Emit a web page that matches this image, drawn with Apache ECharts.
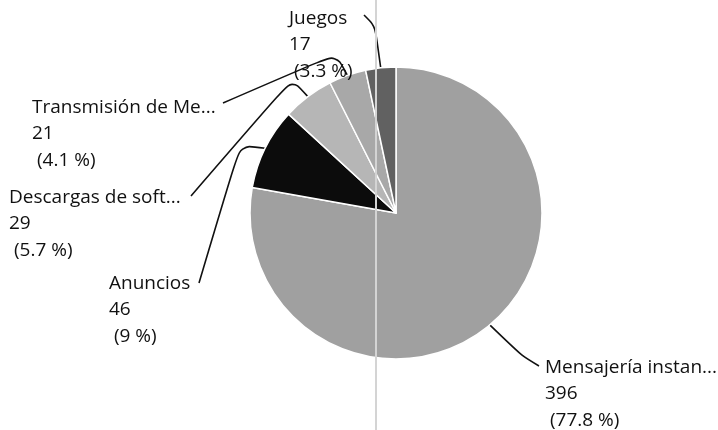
<!DOCTYPE html>
<html>
<head>
<meta charset="utf-8">
<script src="https://cdn.jsdelivr.net/npm/echarts@6/dist/echarts.min.js"></script>
<style>
html,body{margin:0;padding:0;background:#fff;}
#chart{width:718px;height:430px;}
</style>
</head>
<body>
<div id="chart"></div>
<script>
// ---- data ----
var categories = ["Mensajería instantánea", "Anuncios", "Descargas de software", "Transmisión de Medios", "Juegos"];
var values = [396, 46, 29, 21, 17];
var sliceColors = ["#a0a0a0", "#0c0c0c", "#b6b6b6", "#a8a8a8", "#616161"];

// ---- label layout (top-left of label block, bend point, attach point) ----
var labelPos = [
  { x: 545, y: 354, bend: [522, 356], attach: [539, 366] },
  { x: 109, y: 270, bend: [240, 145], attach: [199, 283] },
  { x: 9,   y: 184, bend: [292, 79],  attach: [191, 196] },
  { x: 32,  y: 94,  bend: [336, 54],  attach: [223, 103] },
  { x: 289, y: 5,   bend: [375, 26],  attach: [364, 15] }
];

var total = values.reduce(function (a, b) { return a + b; }, 0);
function shortName(n) { return n.length > 17 ? n.slice(0, 17) + '...' : n; }
function pct(v) { return Number((v / total * 100).toFixed(1)); }

var chart = echarts.init(document.getElementById('chart'));
chart.setOption({
  backgroundColor: '#ffffff',
  animation: false,
  graphic: [{
    type: 'line',
    z: 100,
    shape: { x1: 376, y1: 0, x2: 376, y2: 430 },
    style: { stroke: '#d4d4d4', lineWidth: 2 }
  }],
  series: [{
    type: 'pie',
    center: [396, 213],
    radius: 146,
    startAngle: 90,
    clockwise: true,
    avoidLabelOverlap: false,
    itemStyle: { borderColor: '#ffffff', borderWidth: 1.5 },
    data: categories.map(function (c, i) {
      return { name: c, value: values[i], itemStyle: { color: sliceColors[i] } };
    }),
    label: {
      show: true,
      position: 'outside',
      overflow: 'none',
      color: '#111111',
      fontFamily: 'Open Sans',
      fontSize: 19,
      lineHeight: 26.5,
      formatter: function (p) {
        return shortName(p.name) + '\n' + p.value + '\n (' + pct(p.value) + ' %)';
      }
    },
    labelLine: {
      show: true,
      length: 8,
      length2: 8,
      smooth: 0.3,
      lineStyle: { color: '#111111', width: 1.6 }
    },
    labelLayout: function (params) {
      var lp = labelPos[params.dataIndex];
      var anchor = params.labelLinePoints ? params.labelLinePoints[0] : lp.bend;
      return {
        x: lp.x,
        y: lp.y,
        align: 'left',
        verticalAlign: 'top',
        labelLinePoints: [anchor, lp.bend, lp.attach]
      };
    }
  }]
});
</script>
</body>
</html>
